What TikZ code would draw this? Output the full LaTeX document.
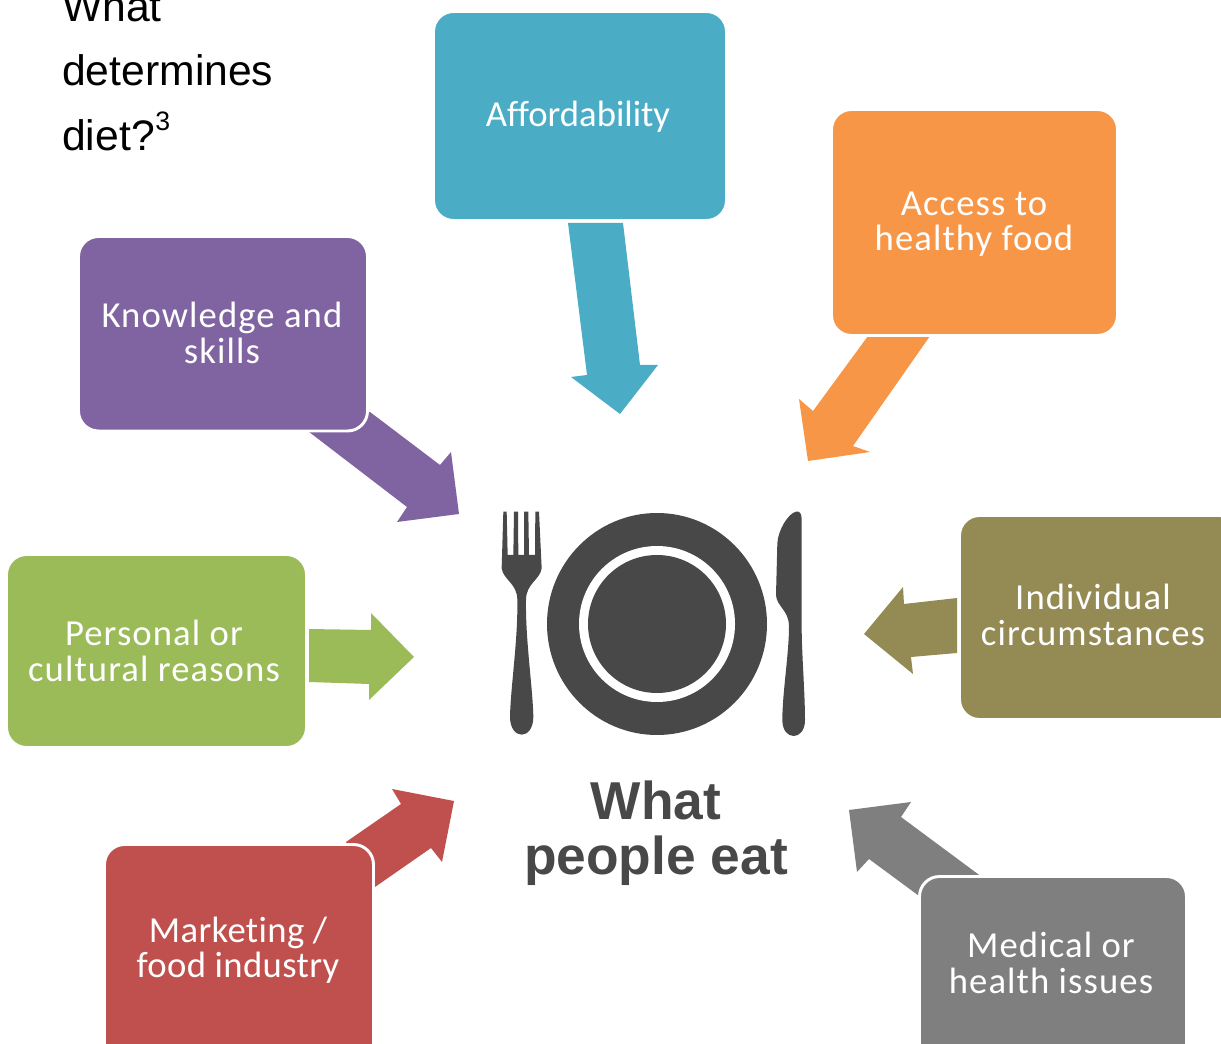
\documentclass[tikz,border=0pt]{standalone}
\usepackage{fontspec}
\setmainfont[Ligatures=NoCommon]{Carlito}
\newfontfamily\arialfont{Liberation Sans}
\newfontfamily\widefont[Ligatures=NoCommon,LetterSpace=3]{Carlito}
\newfontfamily\midfont[Ligatures=NoCommon,LetterSpace=1]{Carlito}
\definecolor{cblue}{HTML}{4BACC6}
\definecolor{corange}{HTML}{F79646}
\definecolor{cpurple}{HTML}{8064A2}
\definecolor{cgreen}{HTML}{9BBB59}
\definecolor{colive}{HTML}{948A54}
\definecolor{cred}{HTML}{C0504D}
\definecolor{cgray}{HTML}{7F7F7F}
\definecolor{cdark}{HTML}{484848}
\tikzset{
  card/.style={draw=white,line width=2.2pt,rounded corners=15pt},
  cardtext/.style={text=white,font=\widefont\fontsize{27.5}{26.5}\selectfont,align=center,inner sep=0pt},
  titletext/.style={anchor=base west,inner sep=0pt,font=\arialfont\fontsize{32}{32}\selectfont}
}
\begin{document}
\begin{tikzpicture}[x=0.75pt,y=-0.75pt]
\useasboundingbox (0,0) rectangle (1221,1044);
\clip (0,0) rectangle (1221,1044);
% title
\node[titletext] (t1) at (62,21.5) {What};
\node[titletext] (t2) at (62,86) {determines};
\node[titletext] (t3) at (62,151) {diet?};
\node[anchor=base west,inner sep=0pt,font=\arialfont\fontsize{20}{20}\selectfont] (t4) at (155,131) {3};
% arrows
\fill[cblue] (568,223)--(623,223)--(640,365)--(658,365)--(620,414)--(571,377)--(587,375)--cycle;
\fill[corange] (868,336)--(930,336)--(853,446)--(870,452)--(808,461)--(799,399)--(813,411)--cycle;
\fill[cpurple] (300,425)--(370,412)--(440,465)--(451,452)--(459,514)--(397,522)--(407,507)--cycle;
\fill[cgreen] (309,629)--(371,630)--(371,613)--(414,657)--(369,700)--(369,684)--(309,682)--cycle;
\fill[colive] (957,598)--(904,604)--(903,587)--(864,634)--(913,674)--(911,657)--(957,653)--cycle;
\fill[cred] (346,842)--(401,804)--(392,789)--(454,801)--(442,862)--(431,848)--(375,887)--(360,880)--cycle;
\fill[cgray] (990,883)--(901,817)--(911,802)--(849,810)--(857,872)--(869,859)--(930,904)--cycle;
% boxes
\draw[card,fill=cblue] (433.5,11.5) rectangle (726.5,220.5);
\node[cardtext,font=\fontsize{27.5}{26.5}\selectfont] (a) at (578,117) {Affordability};
\draw[card,fill=corange] (831.5,109.5) rectangle (1117.5,335.5);
\node[cardtext] (b) at (974,224) {Access to\\healthy food};
\draw[card,fill=cpurple] (78.5,236.5) rectangle (367.5,431);
\node[cardtext] (c) at (222,333) {Knowledge and\\skills};
\draw[card,fill=cgreen] (6.5,554.5) rectangle (306.5,747.5);
\node[cardtext] (d) at (154,651) {Personal or\\cultural reasons};
\draw[card,fill=colive] (959.5,515.5) rectangle (1240,719.5);
\node[cardtext] (e) at (1093,615) {Individual\\circumstances};
\draw[card,fill=cred] (104.5,844.5) rectangle (373.5,1070);
\node[cardtext,font=\midfont\fontsize{27.5}{26.5}\selectfont] (f) at (238,950) {Marketing /\\food industry};
\draw[card,fill=cgray] (919.5,876.5) rectangle (1186.5,1070);
\node[cardtext] (g) at (1051,963) {Medical or\\health issues};
% centre
\node[align=center,inner sep=0pt,text=cdark,font=\arialfont\bfseries\fontsize{40}{41.5}\selectfont] (h) at (656,833) {What\\people eat};
\fill[cdark] (657,624) ellipse (110 and 111);
\fill[white] (657,624) circle (78);
\fill[cdark] (657,624) circle (69);
\begin{scope}[shift={(490,500)},x=0.25pt,y=-0.25pt]
\fill[cdark] (40,35)--(50,35)--(53,165)--(70,165)--(72,35)--(84,35)--(85,165)--(102,165)--(102,35)--(115,35)--(117,165)--(135,165)--(136,35)--(147,35)--(155,205)
 .. controls (150,240) and (108,250) .. (108,300)
 .. controls (106,420) and (128,560) .. (130,650)
 .. controls (130,722) and (60,722) .. (60,650)
 .. controls (62,560) and (84,420) .. (82,300)
 .. controls (82,250) and (40,240) .. (35,205)--cycle;
\fill[cdark] (918,35) .. controls (930,33) and (935,40) .. (935,60)
 -- (935,380)
 .. controls (935,460) and (945,580) .. (945,660)
 .. controls (945,724) and (877,724) .. (877,660)
 .. controls (877,580) and (897,460) .. (897,380)
 .. controls (897,330) and (860,320) .. (858,285)
 -- (862,130)
 .. controls (864,90) and (895,40) .. (918,35) -- cycle;
\end{scope}
\end{tikzpicture}
\end{document}
